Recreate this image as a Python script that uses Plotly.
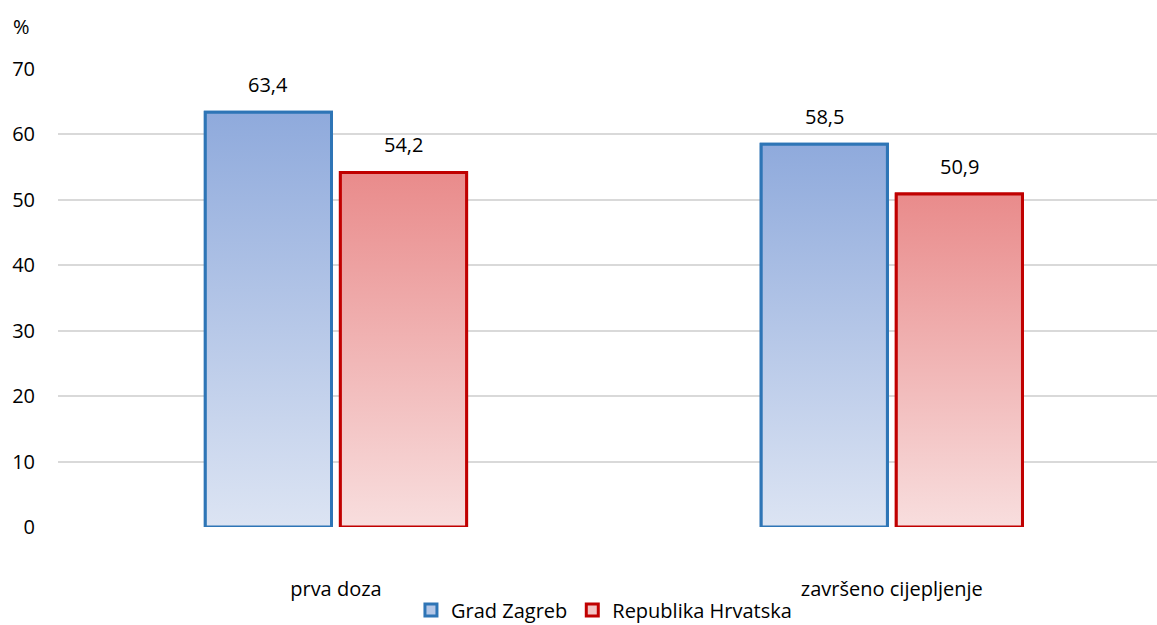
import plotly.graph_objects as go

# data
categories = ["prva doza", "završeno cijepljenje"]
series_names = ["Grad Zagreb", "Republika Hrvatska"]
grad_zagreb = [63.4, 58.5]
republika_hrvatska = [54.2, 50.9]
y_ticks = [0, 10, 20, 30, 40, 50, 60, 70]

FONT = "Open Sans, sans-serif"
FS = 20

# styling per series: border, gradient bottom -> top, legend swatch, bar offset
styles = [
    dict(line="#2E75B6", bottom="#DCE4F3", top="#8FAADC", swatch="#B4C7E7", offset=-0.235),
    dict(line="#C00000", bottom="#F8DEDE", top="#E98B8B", swatch="#F2C4C4", offset=0.008),
]
bar_width = 0.227

x_pos = list(range(len(categories)))
fig = go.Figure()
labels = []

for name, values, st in zip(series_names, [grad_zagreb, republika_hrvatska], styles):
    # solid bars underneath: give the legend its square swatch
    fig.add_trace(go.Bar(
        x=x_pos,
        y=values,
        width=bar_width,
        offset=st["offset"],
        marker=dict(color=st["swatch"], line=dict(color=st["line"], width=3)),
        name=name,
        legendgroup=name,
    ))
    # gradient fill drawn over each bar (own trace so each bar gets its own gradient)
    for xc, v in zip(x_pos, values):
        x0 = xc + st["offset"]
        x1 = x0 + bar_width
        fig.add_trace(go.Scatter(
            x=[x0, x1, x1, x0, x0],
            y=[0, 0, v, v, 0],
            mode="lines",
            fill="toself",
            fillgradient=dict(type="vertical", start=0, stop=v,
                              colorscale=[[0, st["bottom"]], [1, st["top"]]]),
            line=dict(color=st["line"], width=3),
            legendgroup=name,
            showlegend=False,
            hoverinfo="skip",
        ))
        labels.append(dict(
            x=x0 + bar_width / 2, y=v, xref="x", yref="y",
            text=f"{v:.1f}".replace(".", ","),
            showarrow=False, yanchor="bottom", yshift=12,
            font=dict(size=FS, family=FONT, color="#000000"),
        ))

labels.append(dict(
    text="%", xref="paper", yref="paper", x=-0.043, y=1.092,
    xanchor="left", yanchor="middle", showarrow=False,
    font=dict(size=FS, family=FONT),
))

fig.update_layout(
    width=1157,
    height=625,
    margin=dict(l=58, r=0, t=69, b=98),
    paper_bgcolor="white",
    plot_bgcolor="white",
    barmode="overlay",
    separators=",.",
    font=dict(family=FONT, size=FS, color="#000000"),
    showlegend=True,
    legend=dict(
        orientation="h",
        xref="container", yref="container",
        x=0.522, y=0.024, xanchor="center", yanchor="middle",
        font=dict(size=FS, family=FONT),
        itemwidth=30,
        tracegroupgap=0,
    ),
    annotations=labels,
)

fig.update_xaxes(
    range=[-0.5, 1.477],
    tickvals=x_pos,
    ticktext=categories,
    showgrid=False,
    zeroline=False,
    showline=False,
    ticks="",
    automargin=False,
    ticklabelstandoff=48,
    tickfont=dict(size=FS, family=FONT),
)
fig.update_yaxes(
    range=[0, 70],
    tickvals=y_ticks,
    showgrid=True,
    gridcolor="#D9D9D9",
    gridwidth=1.5,
    zeroline=False,
    showline=False,
    ticks="",
    automargin=False,
    ticklabelstandoff=22,
    tickfont=dict(size=FS, family=FONT),
)

fig.write_html("out.html", config={"displayModeBar": False},
               post_script="document.body.style.margin='0';")
